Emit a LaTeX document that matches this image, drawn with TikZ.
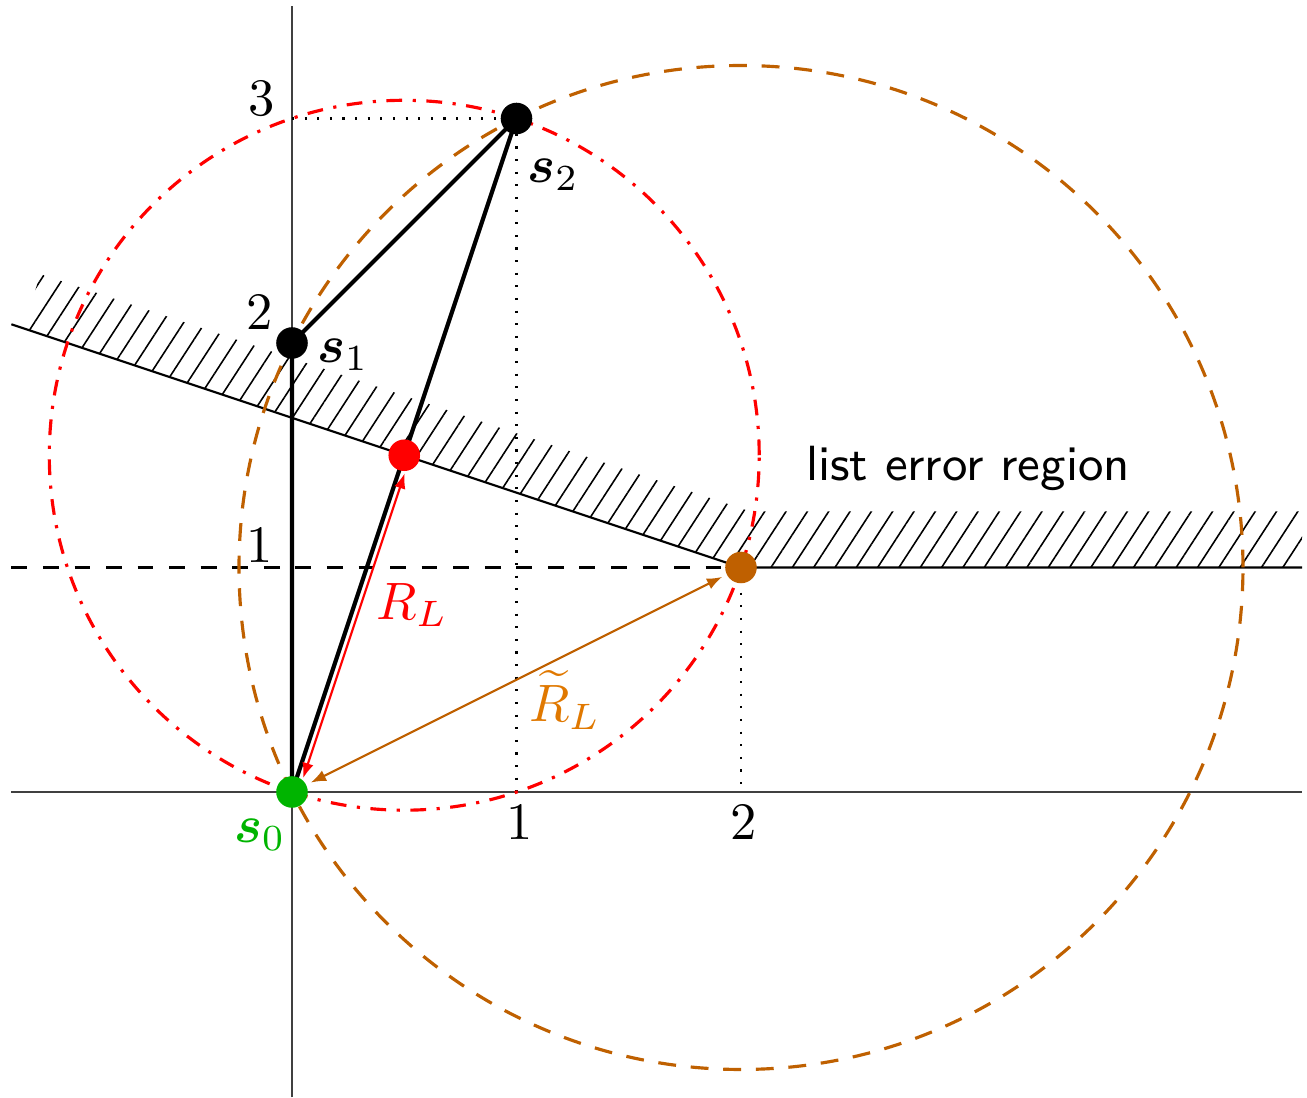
\documentclass[tikz,border=0pt]{standalone}
\usepackage{amsmath,bm}
\usetikzlibrary{arrows.meta,patterns.meta}
\definecolor{Rust}{HTML}{BF6000}
\definecolor{Amber}{HTML}{E07800}
\definecolor{Leaf}{HTML}{00B400}
\definecolor{Axis}{HTML}{404040}

\begin{document}
\begin{tikzpicture}[x=1.5cm, y=1.5cm, every node/.style={font=\normalsize}]
  \tikzstyle{dot}=[circle, inner sep=0pt, minimum size=6pt]
  \tikzstyle{axis}=[draw=Axis, line width=0.4pt]
  \tikzstyle{edge}=[thick, black]
  \tikzstyle{guide}=[dotted, thin]
  \tikzstyle{twoway}=[{Latex[length=2.9pt,width=2.2pt]}-{Latex[length=2.9pt,width=2.2pt]}, thin]
  \useasboundingbox (-1.3007,-1.363) rectangle (4.5212,3.5278);

  \coordinate (p0) at (0,0);
  \coordinate (p1) at (0,2);
  \coordinate (p2) at (1,3);
  \coordinate (pm) at (0.5,1.5);
  \coordinate (pt) at (2,1);

  \fill[pattern={Lines[angle=57, distance=3.4pt, line width=0.3pt]}]
    (-1.2,2.0667) -- (pt) -- (4.5,1) -- (4.5,1.25) -- (2.04,1.25) -- (-1.12,2.3068) -- cycle;
  \draw[thin] (-1.25,2.0833) -- (pt) -- (4.5,1);

  \draw[axis] (-1.25,0) -- (4.5,0);
  \draw[axis] (0,-1.36) -- (0,3.5);
  \draw[dashed, thin] (-1.25,1) -- (pt);
  \draw[guide] (0,3) -- (p2) -- (1,0);
  \draw[guide] (pt) -- (2,0);

  \draw[Rust, semithick, dash pattern=on 3.4pt off 2.8pt] (pt) circle ({sqrt(5)});
  \draw[red, semithick, dash dot] (pm) circle ({sqrt(2.5)});

  \draw[edge] (p0) -- (p1) -- (p2) -- cycle;

  \node[dot, fill=Leaf] (s0) at (p0) {};
  \node[dot, fill=black] (s1) at (p1) {};
  \node[dot, fill=black] (s2) at (p2) {};
  \node[dot, fill=red] (m) at (pm) {};
  \node[dot, fill=Rust] (t) at (pt) {};

  \draw[twoway, red, transform canvas={xshift=1.1pt, yshift=-0.4pt}] (s0) -- (m);
  \draw[twoway, Rust, shorten <=0.8pt, shorten >=0.8pt] (s0) -- (t);

  \node (y3) at (-0.134,3.088) {3};
  \node (y2) at (-0.143,2.138) {2};
  \node (y1) at (-0.143,1.10) {1};
  \node (x1) at (1.016,-0.134) {1};
  \node (x2) at (2.01,-0.134) {2};

  \node[Leaf] (l0) at (-0.143,-0.19) {$\bm{s}_0$};
  \node (l1) at (0.227,1.946) {$\bm{s}_1$};
  \node (l2) at (1.163,2.748) {$\bm{s}_2$};
  \node[red] (rl) at (0.535,0.833) {$R_L$};
  \node[Amber] (rt) at (1.216,0.41) {$\widetilde{R}_L$};
  \node[font=\sffamily\fontsize{9.4}{11}\selectfont] (region) at (3.011,1.443) {list error region};
\end{tikzpicture}
\end{document}
